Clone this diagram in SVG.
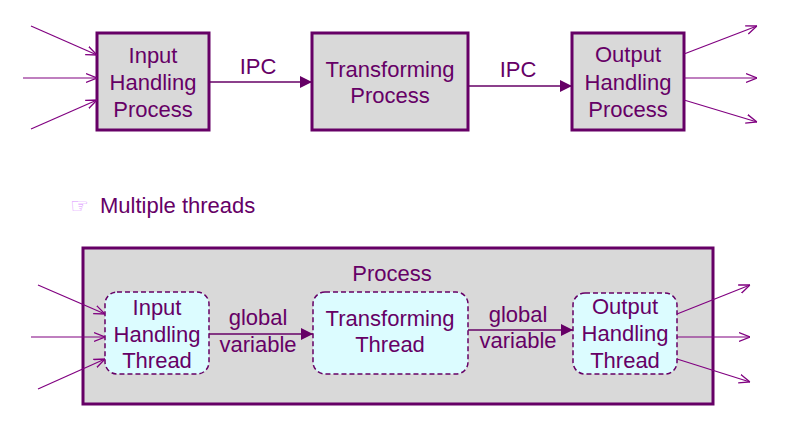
<svg xmlns="http://www.w3.org/2000/svg" width="793" height="421" viewBox="0 0 793 421">
<style>
text{font-family:"Liberation Sans",Arial,sans-serif;font-size:22px;fill:#660066;text-anchor:middle}
.box{fill:#d9d9d9;stroke:#660066;stroke-width:3}
.thr{fill:#dcfcff;stroke:#660066;stroke-width:1.5;stroke-dasharray:5 3}
.ln{stroke:#660066;stroke-width:1.5;fill:none}
.io{stroke:#800080;stroke-width:1.2;fill:none}
</style>
<defs>
<marker id="fa" viewBox="0 0 10 10" refX="10" refY="5" markerWidth="12" markerHeight="12" markerUnits="userSpaceOnUse" orient="auto"><path d="M0,0 L10,5 L0,10 z" fill="#660066"/></marker>
<marker id="oa" viewBox="0 0 10 10" refX="10" refY="5" markerWidth="11" markerHeight="11" markerUnits="userSpaceOnUse" orient="auto"><path d="M0,1 L10,5 L0,9" fill="none" stroke="#800080" stroke-width="1.2"/></marker>
</defs>
<g id="proc-box"><rect class="box" x="83" y="248" width="630" height="156"/><text x="392" y="281">Process</text></g>
<g id="input-process"><rect class="box" x="97" y="33" width="112" height="97"/><text x="153" y="63">Input</text><text x="153" y="90">Handling</text><text x="153" y="117">Process</text></g>
<g id="transforming-process"><rect class="box" x="312" y="33" width="156" height="97"/><text x="390" y="77">Transforming</text><text x="390" y="103">Process</text></g>
<g id="output-process"><rect class="box" x="572" y="33" width="112" height="97"/><text x="628" y="62">Output</text><text x="628" y="90">Handling</text><text x="628" y="117">Process</text></g>
<g id="bullet"><text x="70" y="213" style="font-family:'DejaVu Sans',sans-serif;font-size:21px;fill:#d98cff;text-anchor:start">☞</text><text x="100" y="213" style="text-anchor:start">Multiple threads</text></g>
<g id="input-thread"><rect class="thr" x="105" y="292" width="104" height="82" rx="12"/><text x="157" y="315">Input</text><text x="157" y="342">Handling</text><text x="157" y="368">Thread</text></g>
<g id="transforming-thread"><rect class="thr" x="313" y="292" width="155" height="82" rx="12"/><text x="390" y="326">Transforming</text><text x="390" y="352">Thread</text></g>
<g id="output-thread"><rect class="thr" x="573" y="293" width="104" height="81" rx="12"/><text x="625" y="314">Output</text><text x="625" y="341">Handling</text><text x="625" y="368">Thread</text></g>
<g id="connectors">
<line class="io" x1="31" y1="26" x2="97" y2="55" marker-end="url(#oa)"/>
<line class="io" x1="23" y1="78" x2="97" y2="78" marker-end="url(#oa)"/>
<line class="io" x1="31" y1="129" x2="97" y2="100" marker-end="url(#oa)"/>
<line class="ln" x1="209" y1="82" x2="312" y2="82" marker-end="url(#fa)"/>
<text x="258" y="74">IPC</text>
<line class="ln" x1="468" y1="86" x2="572" y2="86" marker-end="url(#fa)"/>
<text x="518" y="77">IPC</text>
<line class="io" x1="684" y1="54" x2="757" y2="26" marker-end="url(#oa)"/>
<line class="io" x1="684" y1="78" x2="757" y2="78" marker-end="url(#oa)"/>
<line class="io" x1="684" y1="100" x2="757" y2="122" marker-end="url(#oa)"/>
<line class="io" x1="38" y1="285" x2="105" y2="314" marker-end="url(#oa)"/>
<line class="io" x1="31" y1="337" x2="105" y2="337" marker-end="url(#oa)"/>
<line class="io" x1="38" y1="389" x2="105" y2="359" marker-end="url(#oa)"/>
<line class="ln" x1="209" y1="334" x2="313" y2="334" marker-end="url(#fa)"/>
<text x="258" y="325">global</text><text x="258" y="352">variable</text>
<line class="ln" x1="468" y1="330" x2="573" y2="330" marker-end="url(#fa)"/>
<text x="518" y="322">global</text><text x="518" y="348">variable</text>
<line class="io" x1="677" y1="314" x2="750" y2="285" marker-end="url(#oa)"/>
<line class="io" x1="677" y1="337" x2="750" y2="337" marker-end="url(#oa)"/>
<line class="io" x1="677" y1="359" x2="750" y2="382" marker-end="url(#oa)"/>
</g>
</svg>
